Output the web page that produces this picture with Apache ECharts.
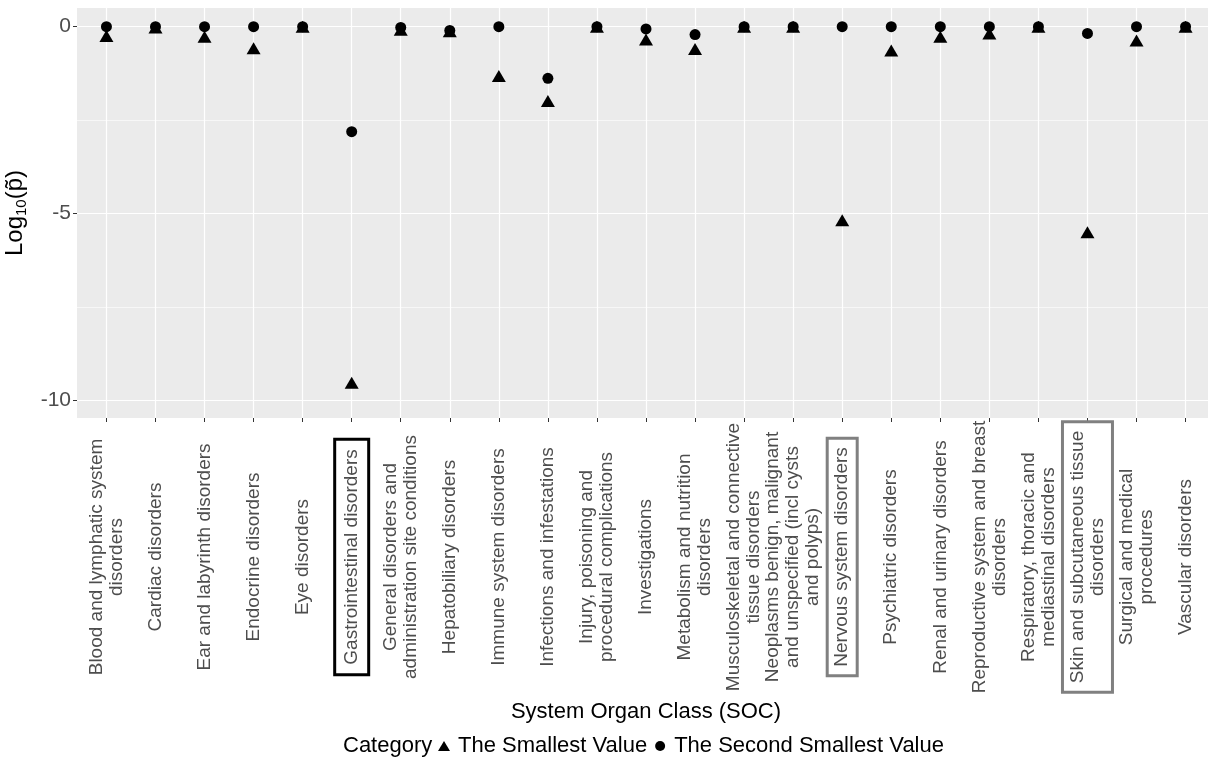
<!DOCTYPE html>
<html>
<head>
<meta charset="utf-8">
<script src="https://cdn.jsdelivr.net/npm/echarts@6/dist/echarts.min.js"></script>
<style>
html, body { margin: 0; padding: 0; background: #fff; }
#chart { width: 1208px; height: 760px; }
</style>
</head>
<body>
<div id="chart"></div>
<script>
const socNames = [
  'Blood and lymphatic system\ndisorders',
  'Cardiac disorders',
  'Ear and labyrinth disorders',
  'Endocrine disorders',
  'Eye disorders',
  'Gastrointestinal disorders',
  'General disorders and\nadministration site conditions',
  'Hepatobiliary disorders',
  'Immune system disorders',
  'Infections and infestations',
  'Injury, poisoning and\nprocedural complications',
  'Investigations',
  'Metabolism and nutrition\ndisorders',
  'Musculoskeletal and connective\ntissue disorders',
  'Neoplasms benign, malignant\nand unspecified (incl cysts\nand polyps)',
  'Nervous system disorders',
  'Psychiatric disorders',
  'Renal and urinary disorders',
  'Reproductive system and breast\ndisorders',
  'Respiratory, thoracic and\nmediastinal disorders',
  'Skin and subcutaneous tissue\ndisorders',
  'Surgical and medical\nprocedures',
  'Vascular disorders'
];
const smallestValue = [-0.25, -0.02, -0.27, -0.58, 0, -9.53, -0.08, -0.12, -1.32, -1.99, 0, -0.34, -0.6, 0, 0, -5.18, -0.64, -0.27, -0.18, 0, -5.5, -0.37, 0];
const secondSmallestValue = [0, 0, 0, 0, 0, -2.81, -0.02, -0.1, 0, -1.38, 0, -0.06, -0.21, 0, 0, 0, 0, 0, 0, 0, -0.18, 0, 0];
const yTicks = [-10, -5, 0];
const yMinorLines = [-7.5, -2.5];
const blackBoxed = [5];
const grayBoxed = [15, 20];

const font = "'Liberation Sans', Arial, sans-serif";
const allIdx = socNames.map((_, i) => i);
const plainIdx = allIdx.filter(i => !blackBoxed.includes(i) && !grayBoxed.includes(i));

const labelBase = {
  rotate: 90,
  align: 'center',
  margin: 139,
  fontSize: 19,
  lineHeight: 20,
  color: '#4D4D4D',
  fontFamily: font
};

function xAxisFor(values, extraLabel, main) {
  return {
    type: 'value',
    position: 'bottom',
    min: -0.6,
    max: 22.6,
    splitNumber: 23,
    axisLine: { show: false, onZero: false },
    axisTick: main
      ? { show: true, length: 4, lineStyle: { color: '#333', width: 1 }, customValues: allIdx }
      : { show: false },
    splitLine: main
      ? { show: true, lineStyle: { color: '#fff', width: 1.2 } }
      : { show: false },
    axisLabel: Object.assign({}, labelBase, extraLabel, {
      customValues: values,
      formatter: v => (values.includes(v) ? socNames[v] : '')
    })
  };
}

const chart = echarts.init(document.getElementById('chart'));

const option = {
  animation: false,
  title: {
    text: 'Category',
    left: 343,
    top: 735,
    padding: 0,
    textStyle: { fontSize: 22, fontWeight: 'normal', color: '#000', fontFamily: font }
  },
  legend: {
    left: 438,
    top: 735,
    padding: 0,
    itemWidth: 12,
    itemHeight: 10,
    itemGap: 8,
    selectedMode: false,
    textStyle: { fontSize: 22, color: '#000', fontFamily: font, padding: [0, 0, 0, 3] },
    data: [
      { name: 'The Smallest Value', icon: 'triangle' },
      { name: 'The Second Smallest Value', icon: 'circle' }
    ]
  },
  grid: {
    left: 77,
    right: -7,
    top: 8,
    bottom: 342,
    containLabel: false,
    outerBoundsMode: 'none',
    show: true,
    backgroundColor: '#EBEBEB',
    borderWidth: 0
  },
  xAxis: [
    Object.assign(xAxisFor(plainIdx, {}, true), {
      name: 'System Organ Class (SOC)',
      nameLocation: 'middle',
      nameGap: 281,
      nameTextStyle: { fontSize: 22, color: '#000', fontFamily: font }
    }),
    xAxisFor(grayBoxed, { borderColor: '#808080', borderWidth: 3, padding: [5, 9] }, false),
    xAxisFor(blackBoxed, { borderColor: '#000', borderWidth: 3, padding: [7, 10] }, false)
  ],
  yAxis: {
    type: 'value',
    min: -10.47,
    max: 0.5,
    splitNumber: 2,
    axisLine: { show: false, onZero: false },
    axisTick: { show: true, length: 4, lineStyle: { color: '#333', width: 1 }, customValues: yTicks },
    axisLabel: {
      customValues: yTicks,
      fontSize: 21,
      color: '#4D4D4D',
      margin: 6,
      fontFamily: font,
      formatter: v => (yTicks.includes(v) ? String(v) : '')
    },
    splitLine: { show: true, lineStyle: { color: '#fff', width: 1.2 } },
    name: '{a|Log}{s|10}{a|(p\u0303)}',
    nameLocation: 'middle',
    nameGap: 35,
    nameTextStyle: {
      color: '#000',
      fontFamily: font,
      rich: {
        a: { fontSize: 24, color: '#000', fontFamily: font, lineHeight: 28 },
        s: { fontSize: 15, color: '#000', fontFamily: font, verticalAlign: 'bottom', lineHeight: 16 }
      }
    }
  },
  series: [
    {
      name: 'The Smallest Value',
      type: 'scatter',
      symbol: 'triangle',
      symbolSize: [14, 12],
      itemStyle: { color: '#000', opacity: 1 },
      data: smallestValue.map((v, i) => [i, v]),
      markLine: {
        silent: true,
        symbol: 'none',
        label: { show: false },
        lineStyle: { color: '#fff', width: 0.6, type: 'solid', opacity: 1 },
        data: yMinorLines.map(v => ({ yAxis: v }))
      }
    },
    {
      name: 'The Second Smallest Value',
      type: 'scatter',
      symbol: 'circle',
      symbolSize: 11,
      itemStyle: { color: '#000', opacity: 1 },
      data: secondSmallestValue.map((v, i) => [i, v])
    }
  ]
};

chart.setOption(option);
</script>
</body>
</html>
